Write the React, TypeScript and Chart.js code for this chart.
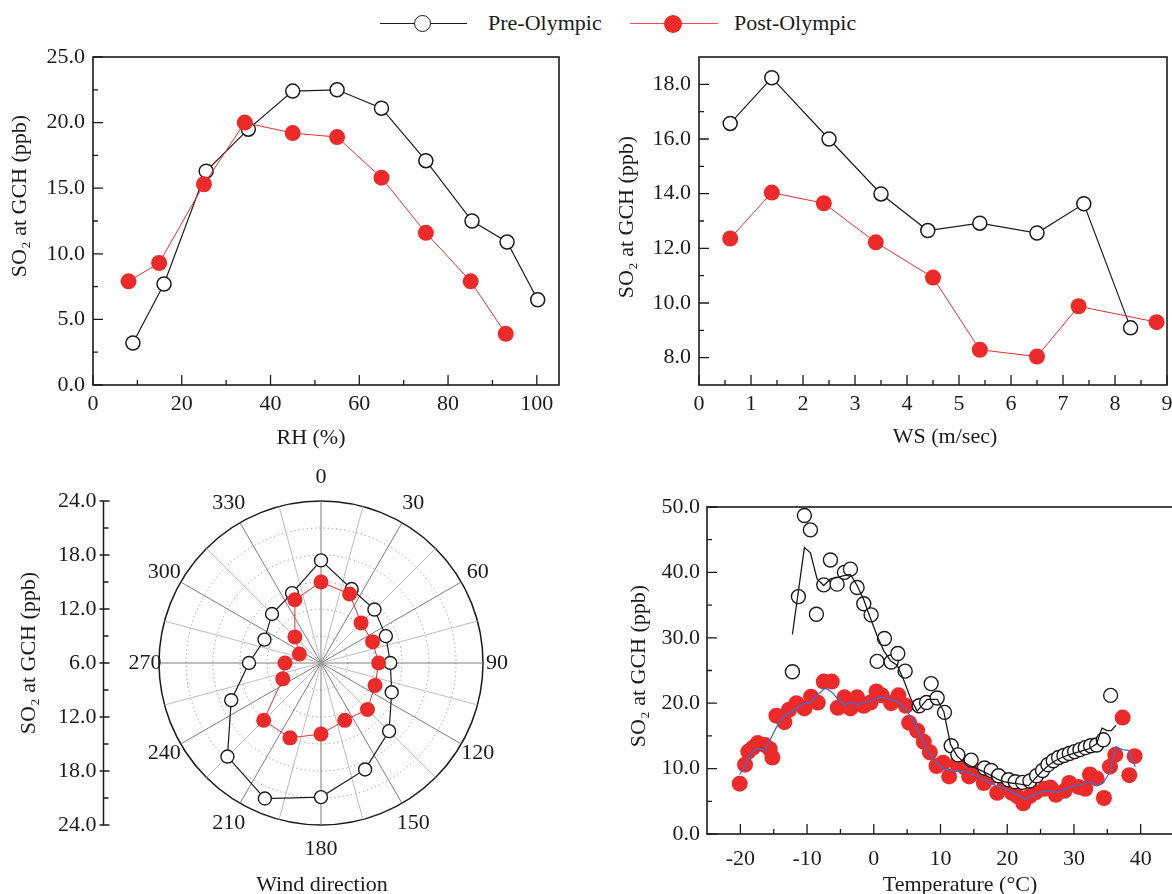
import React, { useEffect, useRef } from 'react';
import { Chart, registerables } from 'chart.js';

Chart.register(...registerables);

const FONT = '"Liberation Serif", "Times New Roman", Times, serif';
const INK = '#1b1b1b';
const RED = '#ec2a2a';
const RED_LINE = '#e62e2e';
const BLUE = '#3a6fd6';
const SO2_TITLE = 'SO\u2082 at GCH (ppb)';

// ===== Panel: RH =====
const rhPreX = [9, 16, 25.5, 35, 45, 55, 65, 75, 85.4, 93.3, 100.2];
const rhPreY = [3.2, 7.7, 16.3, 19.5, 22.4, 22.5, 21.1, 17.1, 12.5, 10.9, 6.5];
const rhPostX = [8, 14.9, 25, 34.2, 45, 55, 65, 75, 85.1, 93];
const rhPostY = [7.9, 9.3, 15.3, 20.0, 19.2, 18.9, 15.8, 11.6, 7.9, 3.9];
const rhXTicks = [0, 20, 40, 60, 80, 100];
const rhXMinor = [10, 30, 50, 70, 90];
const rhYTicks = [0, 5, 10, 15, 20, 25];
const rhYMinor = [2.5, 7.5, 12.5, 17.5, 22.5];

// ===== Panel: WS =====
const wsPreX = [0.6, 1.4, 2.5, 3.5, 4.4, 5.4, 6.5, 7.4, 8.3];
const wsPreY = [16.57, 18.24, 16.0, 13.99, 12.65, 12.92, 12.56, 13.63, 9.09];
const wsPostX = [0.6, 1.4, 2.4, 3.4, 4.5, 5.4, 6.5, 7.3, 8.8];
const wsPostY = [12.36, 14.04, 13.65, 12.22, 10.93, 8.29, 8.04, 9.88, 9.3];
const wsXTicks = [0, 1, 2, 3, 4, 5, 6, 7, 8, 9];
const wsXMinor = [0.5, 1.5, 2.5, 3.5, 4.5, 5.5, 6.5, 7.5, 8.5];
const wsYTicks = [8, 10, 12, 14, 16, 18];
const wsYMinor = [9, 11, 13, 15, 17];

// ===== Panel: wind direction =====
const wdDirs = [0, 22.5, 45, 67.5, 90, 112.5, 135, 157.5, 180, 202.5, 225, 247.5, 270, 292.5, 315, 337.5];
const wdPre = [17.4, 14.9, 14.4, 13.8, 13.7, 14.5, 16.7, 18.8, 20.9, 22.3, 20.7, 16.8, 14.0, 12.8, 13.7, 14.4];
const wdPost = [15.0, 14.3, 12.3, 12.2, 12.4, 12.5, 13.3, 12.9, 13.9, 15.0, 15.0, 10.6, 10.0, 8.6, 10.1, 13.6];
const wdLabels = [0, 30, 60, 90, 120, 150, 180, 210, 240, 270, 300, 330];
const wdAxisTicks = [24, 18, 12, 6];
const wdAxisMinor = [21, 15, 9];
const ANGLE_STEP = 7.5; // common grid of spokes (15 deg) and data (22.5 deg)

// ===== Panel: temperature =====
const tPreX = [-12.2, -11.3, -10.4, -9.5, -8.6, -7.5, -6.5, -5.5, -4.4, -3.5, -2.5, -1.5, -0.4, 0.5, 1.6, 2.6, 3.6, 4.7, 6.8, 7.9, 8.6, 9.5, 10.6, 11.6, 12.6, 14.6, 16.6, 17.6, 18.7, 20.2, 21.2, 22.3, 23.4, 24.4, 25.3, 26.1, 26.9, 27.7, 28.5, 29.3, 30.1, 30.9, 31.7, 32.5, 33.4, 34.4, 35.5];
const tPreY = [24.8, 36.3, 48.7, 46.5, 33.6, 38.1, 41.9, 38.2, 40.0, 40.5, 37.7, 35.2, 33.5, 26.4, 29.9, 26.3, 27.6, 24.9, 19.6, 20.1, 23.0, 20.8, 18.6, 13.5, 12.1, 11.3, 10.1, 9.7, 8.9, 8.3, 8.0, 7.9, 8.1, 8.9, 9.7, 10.6, 11.2, 11.7, 12.0, 12.3, 12.6, 12.9, 13.2, 13.5, 13.6, 14.4, 21.2];
const tPreLineX = [-12.2, -10.4, -9.5, -8.5, -7.5, -6.5, -5.5, -4.5, -3.5, -2.5, -1.5, -0.5, 0.5, 1.5, 2.5, 3.5, 4.5, 5.5, 6.5, 8.0, 9.5, 10.5, 11.5, 12.5, 13.5, 14.5, 15.5, 16.5, 17.5, 18.5, 19.5, 20.5, 21.5, 22.5, 23.2, 24.2, 25.2, 26.2, 27.2, 28.2, 29.2, 30.2, 31.2, 32.2, 33.4, 34.2, 35.0, 35.6, 36.3];
const tPreLineY = [30.5, 43.8, 43.0, 39.0, 38.0, 39.0, 39.2, 39.5, 39.7, 38.0, 35.8, 33.0, 30.3, 28.0, 26.5, 25.8, 23.5, 20.8, 18.8, 20.6, 20.6, 18.7, 13.7, 11.9, 11.0, 10.4, 10.0, 9.5, 9.0, 8.4, 8.0, 7.8, 7.7, 7.5, 7.4, 8.5, 9.6, 10.5, 11.2, 11.7, 12.1, 12.4, 12.7, 13.0, 13.8, 16.2, 15.8, 15.8, 16.6];
const tPostX = [-20.1, -19.3, -18.8, -18.1, -17.4, -16.3, -15.6, -15.2, -14.6, -13.4, -12.7, -11.6, -10.4, -9.4, -8.4, -7.5, -6.3, -5.4, -4.4, -3.5, -2.5, -1.5, -0.5, 0.4, 1.2, 2.6, 3.7, 4.8, 5.3, 6.5, 7.5, 8.4, 9.4, 10.4, 11.3, 12.5, 13.7, 14.3, 15.6, 16.5, 17.5, 18.5, 19.6, 20.7, 21.5, 22.4, 23.4, 24.3, 25.6, 26.5, 27.3, 28.6, 29.3, 30.7, 31.7, 32.4, 33.4, 34.5, 35.4, 36.2, 37.3, 38.3, 39.1];
const tPostY = [7.7, 10.6, 12.6, 13.2, 13.9, 13.6, 13.0, 11.7, 18.1, 17.1, 19.0, 20.0, 19.2, 21.0, 20.1, 23.3, 23.3, 19.3, 20.9, 19.2, 20.9, 19.6, 20.1, 21.8, 21.2, 20.0, 21.2, 19.6, 17.0, 15.8, 14.1, 12.5, 10.4, 10.9, 8.8, 10.7, 10.1, 8.8, 9.5, 7.8, 8.7, 6.3, 7.3, 6.3, 5.8, 4.7, 5.8, 6.4, 6.9, 7.1, 6.0, 6.6, 7.8, 7.2, 6.9, 9.1, 8.5, 5.5, 10.3, 12.1, 17.8, 9.0, 11.9];
const tPostLineX = [-20.1, -19.3, -18.5, -17.4, -16.3, -15.5, -14.5, -13.5, -12.5, -11.5, -10.4, -9.5, -8.5, -7.3, -6.4, -5.5, -4.4, -3.5, -2.4, -1.5, -0.5, 0.5, 1.5, 2.5, 3.6, 4.7, 5.8, 6.9, 8.2, 9.3, 10.5, 11.5, 12.7, 13.9, 14.9, 15.9, 16.9, 17.9, 18.9, 19.9, 20.9, 21.9, 22.6, 23.6, 24.6, 25.6, 26.6, 27.6, 28.6, 29.6, 30.6, 31.6, 32.6, 33.4, 34.4, 35.4, 36.3, 37.2, 38.2, 39.2];
const tPostLineY = [9.1, 10.5, 12.3, 13.1, 12.8, 14.5, 16.5, 18.0, 18.6, 19.3, 20.0, 20.1, 21.2, 22.3, 21.8, 20.8, 19.7, 20.1, 19.8, 20.1, 20.4, 20.8, 20.9, 20.6, 20.2, 19.2, 17.5, 15.2, 12.5, 11.0, 9.9, 9.8, 9.6, 9.5, 9.1, 8.6, 8.1, 7.6, 7.2, 6.8, 6.3, 5.8, 5.3, 5.8, 6.2, 6.6, 6.5, 6.4, 6.8, 7.2, 7.5, 7.7, 8.0, 7.4, 7.8, 9.5, 13.4, 12.9, 12.8, 10.3];
const tXTicks = [-20, -10, 0, 10, 20, 30, 40];
const tXMinor = [-15, -5, 5, 15, 25, 35];
const tYTicks = [0, 10, 20, 30, 40, 50];
const tYMinor = [5, 15, 25, 35, 45];

// ===== helpers =====
type Geo = { left: number; top: number; width: number; height: number; L: number; T: number; R: number; B: number };
type TextItem = { text: string; x: number; y: number; rot?: boolean };
type Axis = { min: number; max: number; ticks: number[]; minor: number[]; pad: number; fmt: (v: number) => string };

const pts = (xs: number[], ys: number[]) => xs.map((x, i) => ({ x, y: ys[i] }));
const fmt1 = (v: number) => Number(v).toFixed(1);
const fmt0 = (v: number) => String(v);

function drawTexts(ctx: CanvasRenderingContext2D, box: { left: number; top: number }, texts: TextItem[]) {
  ctx.save();
  ctx.fillStyle = INK;
  ctx.font = `22px ${FONT}`;
  ctx.textBaseline = 'middle';
  ctx.textAlign = 'center';
  for (const t of texts) {
    ctx.save();
    ctx.translate(t.x - box.left, t.y - box.top);
    if (t.rot) ctx.rotate(-Math.PI / 2);
    ctx.fillText(t.text, 0, 0);
    ctx.restore();
  }
  ctx.restore();
}

function decorPlugin(g: Geo, xa: Axis, ya: Axis, texts: TextItem[]) {
  return {
    id: 'decor',
    afterDraw(chart: any) {
      const { ctx, chartArea: a } = chart;
      const sx = chart.scales.x;
      const sy = chart.scales.y;
      ctx.save();
      ctx.strokeStyle = INK;
      ctx.lineWidth = 1.6;
      ctx.strokeRect(a.left, a.top, a.right - a.left, a.bottom - a.top);
      ctx.lineWidth = 1.3;
      ctx.beginPath();
      const xt = (v: number, len: number) => {
        const p = sx.getPixelForValue(v);
        ctx.moveTo(p, a.bottom);
        ctx.lineTo(p, a.bottom - len);
      };
      const yt = (v: number, len: number) => {
        const p = sy.getPixelForValue(v);
        ctx.moveTo(a.left, p);
        ctx.lineTo(a.left + len, p);
      };
      xa.ticks.forEach((v) => xt(v, 10));
      xa.minor.forEach((v) => xt(v, 5));
      ya.ticks.forEach((v) => yt(v, 10));
      ya.minor.forEach((v) => yt(v, 5));
      ctx.stroke();
      ctx.restore();
      drawTexts(ctx, g, texts);
    },
  };
}

function xyConfig(g: Geo, xa: Axis, ya: Axis, datasets: any[], texts: TextItem[]) {
  const tickFont = { family: FONT, size: 22 };
  return {
    type: 'line',
    data: { datasets },
    options: {
      responsive: false,
      animation: false,
      events: [],
      layout: { padding: { left: 0, top: g.T - g.top, right: g.left + g.width - g.R, bottom: 0 } },
      plugins: { legend: { display: false }, tooltip: { enabled: false } },
      elements: { line: { tension: 0 } },
      scales: {
        x: {
          type: 'linear',
          position: 'bottom',
          min: xa.min,
          max: xa.max,
          grid: { display: false, drawTicks: false },
          border: { display: false },
          ticks: { padding: xa.pad, font: tickFont, color: INK, maxRotation: 0, autoSkip: false, callback: (v: number) => xa.fmt(v) },
          afterBuildTicks: (s: any) => {
            s.ticks = xa.ticks.map((v) => ({ value: v }));
          },
          afterFit: (s: any) => {
            s.height = g.top + g.height - g.B;
          },
        },
        y: {
          type: 'linear',
          position: 'left',
          min: ya.min,
          max: ya.max,
          grid: { display: false, drawTicks: false },
          border: { display: false },
          ticks: { padding: ya.pad, font: tickFont, color: INK, autoSkip: false, callback: (v: number) => ya.fmt(v) },
          afterBuildTicks: (s: any) => {
            s.ticks = ya.ticks.map((v) => ({ value: v }));
          },
          afterFit: (s: any) => {
            s.width = g.L - g.left;
          },
        },
      },
    },
    plugins: [decorPlugin(g, xa, ya, texts)],
  };
}

const preSeries = (xs: number[], ys: number[], r: number) => ({
  data: pts(xs, ys),
  borderColor: INK,
  borderWidth: 1.2,
  pointRadius: r,
  pointBackgroundColor: '#ffffff',
  pointBorderColor: INK,
  pointBorderWidth: 1.5,
  fill: false,
  order: 1,
  clip: false,
});
const postSeries = (xs: number[], ys: number[], r: number) => ({
  data: pts(xs, ys),
  borderColor: RED_LINE,
  borderWidth: 1,
  pointRadius: r,
  pointBackgroundColor: RED,
  pointBorderColor: RED,
  pointBorderWidth: 0,
  fill: false,
  order: 0,
  clip: false,
});

// ===== geometries (page coordinates) =====
const G1: Geo = { left: 0, top: 30, width: 600, height: 440, L: 93, T: 57, R: 559, B: 385 };
const G2: Geo = { left: 580, top: 30, width: 610, height: 440, L: 699, T: 57, R: 1167, B: 385 };
const G3 = { left: 0, top: 440, width: 560, height: 454 };
const G4: Geo = { left: 590, top: 470, width: 600, height: 434, L: 707, T: 507, R: 1174, B: 834 };

function configRH() {
  return xyConfig(
    G1,
    { min: 0, max: 105, ticks: rhXTicks, minor: rhXMinor, pad: 6, fmt: fmt0 },
    { min: 0, max: 25, ticks: rhYTicks, minor: rhYMinor, pad: 8, fmt: fmt1 },
    [postSeries(rhPostX, rhPostY, 8), preSeries(rhPreX, rhPreY, 7)],
    [
      { text: 'RH (%)', x: 311, y: 438 },
      { text: SO2_TITLE, x: 20, y: 196, rot: true },
    ]
  );
}

function configWS() {
  return xyConfig(
    G2,
    { min: 0, max: 9, ticks: wsXTicks, minor: wsXMinor, pad: 6, fmt: fmt0 },
    { min: 7, max: 19, ticks: wsYTicks, minor: wsYMinor, pad: 8, fmt: fmt1 },
    [postSeries(wsPostX, wsPostY, 8), preSeries(wsPreX, wsPreY, 7)],
    [
      { text: 'WS (m/sec)', x: 945, y: 437 },
      { text: SO2_TITLE, x: 627, y: 217, rot: true },
    ]
  );
}

function configTemp() {
  return xyConfig(
    G4,
    { min: -25, max: 45, ticks: tXTicks, minor: tXMinor, pad: 12, fmt: fmt0 },
    { min: 0, max: 50, ticks: tYTicks, minor: tYMinor, pad: 7, fmt: fmt1 },
    [
      { data: pts(tPreLineX, tPreLineY), borderColor: INK, borderWidth: 1.3, pointRadius: 0, fill: false, order: 0, clip: false },
      { data: pts(tPreX, tPreY), showLine: false, pointRadius: 7, pointBackgroundColor: '#ffffff', pointBorderColor: INK, pointBorderWidth: 1.4, order: 1, clip: false },
      { data: pts(tPostLineX, tPostLineY), borderColor: BLUE, borderWidth: 1.3, pointRadius: 0, fill: false, order: 2, clip: false },
      { data: pts(tPostX, tPostY), showLine: false, pointRadius: 8, pointBackgroundColor: RED, pointBorderColor: RED, pointBorderWidth: 0, order: 3, clip: false },
    ],
    [
      { text: 'Temperature (\u00B0C)', x: 960, y: 885 },
      { text: SO2_TITLE, x: 639, y: 666, rot: true },
    ]
  );
}

function configWind() {
  const n = Math.round(360 / ANGLE_STEP);
  const labels = Array.from({ length: n }, (_, i) => String(i * ANGLE_STEP));
  const toRadar = (vals: number[]) => {
    const arr: (number | null)[] = new Array(n).fill(null);
    wdDirs.forEach((d, k) => {
      arr[Math.round(d / ANGLE_STEP)] = vals[k];
    });
    return arr;
  };
  const decor = {
    id: 'polarDecor',
    afterDraw(chart: any) {
      const r = chart.scales.r;
      const ctx: CanvasRenderingContext2D = chart.ctx;
      const cy = r.yCenter;
      ctx.save();
      ctx.fillStyle = INK;
      ctx.font = `22px ${FONT}`;
      ctx.textAlign = 'center';
      ctx.textBaseline = 'middle';
      wdLabels.forEach((deg) => {
        const th = (deg * Math.PI) / 180;
        const dist = r.drawingArea + 14 + 10 * Math.abs(Math.cos(th));
        const p = r.getPointPosition(Math.round(deg / ANGLE_STEP), dist);
        ctx.fillText(String(deg), p.x, p.y);
      });
      // left mirrored axis
      const ax = 103.5 - G3.left;
      const dTop = r.getDistanceFromCenterForValue(24);
      ctx.strokeStyle = INK;
      ctx.lineWidth = 1.5;
      ctx.beginPath();
      ctx.moveTo(ax, cy - dTop);
      ctx.lineTo(ax, cy + dTop);
      ctx.stroke();
      ctx.lineWidth = 1.3;
      ctx.beginPath();
      wdAxisTicks.forEach((v) => {
        const d = r.getDistanceFromCenterForValue(v);
        [cy - d, cy + d].forEach((y) => {
          ctx.moveTo(ax - 4, y);
          ctx.lineTo(ax + 6, y);
        });
      });
      wdAxisMinor.forEach((v) => {
        const d = r.getDistanceFromCenterForValue(v);
        [cy - d, cy + d].forEach((y) => {
          ctx.moveTo(ax, y);
          ctx.lineTo(ax + 5, y);
        });
      });
      ctx.stroke();
      ctx.textAlign = 'right';
      wdAxisTicks.forEach((v) => {
        const d = r.getDistanceFromCenterForValue(v);
        const ys = d > 0.5 ? [cy - d, cy + d] : [cy];
        ys.forEach((y) => ctx.fillText(v.toFixed(1), ax - 7, y));
      });
      ctx.restore();
      drawTexts(ctx, G3, [
        { text: 'Wind direction', x: 322, y: 885 },
        { text: SO2_TITLE, x: 29, y: 653, rot: true },
      ]);
    },
  };
  return {
    type: 'radar',
    data: {
      labels,
      datasets: [
        {
          data: toRadar(wdPost),
          borderColor: RED_LINE,
          borderWidth: 1,
          pointRadius: 7.5,
          pointBackgroundColor: RED,
          pointBorderColor: RED,
          pointBorderWidth: 0,
          spanGaps: true,
          fill: false,
          order: 0,
        },
        {
          data: toRadar(wdPre),
          borderColor: INK,
          borderWidth: 1.2,
          pointRadius: 6.5,
          pointBackgroundColor: '#ffffff',
          pointBorderColor: INK,
          pointBorderWidth: 1.4,
          spanGaps: true,
          fill: false,
          order: 1,
        },
      ],
    },
    options: {
      responsive: false,
      animation: false,
      events: [],
      layout: { padding: { left: 159, top: 61, right: 77, bottom: 69 } },
      plugins: { legend: { display: false }, tooltip: { enabled: false } },
      elements: { line: { tension: 0 } },
      scales: {
        r: {
          min: 6,
          max: 24,
          startAngle: 0,
          ticks: { display: false, stepSize: 3 },
          pointLabels: { display: false },
          grid: {
            circular: true,
            color: (c: any) => (c.tick && c.tick.value === 24 ? INK : '#8e8e8e'),
            lineWidth: (c: any) => (c.tick && c.tick.value === 24 ? 1.5 : 1),
          },
          border: {
            dash: (c: any) => (c.tick && c.tick.value === 24 ? [] : [1.2, 3]),
          },
          angleLines: {
            display: true,
            color: (c: any) => (c.index % 4 === 0 ? '#7c7c7c' : c.index % 2 === 0 ? '#bdbdbd' : 'rgba(0,0,0,0)'),
            lineWidth: (c: any) => (c.index % 2 === 0 ? 1 : 0),
          },
        },
      },
    },
    plugins: [decor],
  };
}

function ChartCanvas({ box, make }: { box: { left: number; top: number; width: number; height: number }; make: () => any }) {
  const ref = useRef<HTMLCanvasElement>(null);
  useEffect(() => {
    if (!ref.current) return;
    const chart = new Chart(ref.current, make());
    return () => chart.destroy();
  }, []);
  return (
    <canvas
      ref={ref}
      width={box.width}
      height={box.height}
      style={{ position: 'absolute', left: box.left, top: box.top, width: box.width, height: box.height }}
    />
  );
}

function Legend() {
  const text: React.CSSProperties = {
    position: 'absolute',
    top: 12,
    font: `22px ${FONT}`,
    lineHeight: '22px',
    color: INK,
    whiteSpace: 'nowrap',
  };
  return (
    <>
      <div style={{ position: 'absolute', left: 380, top: 23, width: 87, height: 1.3, background: INK }} />
      <div
        style={{
          position: 'absolute',
          left: 414,
          top: 15,
          width: 17,
          height: 17,
          boxSizing: 'border-box',
          border: `1.5px solid ${INK}`,
          borderRadius: '50%',
          background: '#fff',
        }}
      />
      <span style={{ ...text, left: 488 }}>Pre-Olympic</span>
      <div style={{ position: 'absolute', left: 630, top: 23, width: 88, height: 1.3, background: '#ee5050' }} />
      <div style={{ position: 'absolute', left: 664, top: 14.5, width: 18, height: 18, borderRadius: '50%', background: RED }} />
      <span style={{ ...text, left: 734 }}>Post-Olympic</span>
    </>
  );
}

export default function App() {
  return (
    <div
      style={{
        position: 'fixed',
        left: 0,
        top: 0,
        width: 1172,
        height: 894,
        overflow: 'hidden',
        background: '#ffffff',
      }}
    >
      <Legend />
      <ChartCanvas box={G1} make={configRH} />
      <ChartCanvas box={G2} make={configWS} />
      <ChartCanvas box={G3} make={configWind} />
      <ChartCanvas box={G4} make={configTemp} />
    </div>
  );
}
